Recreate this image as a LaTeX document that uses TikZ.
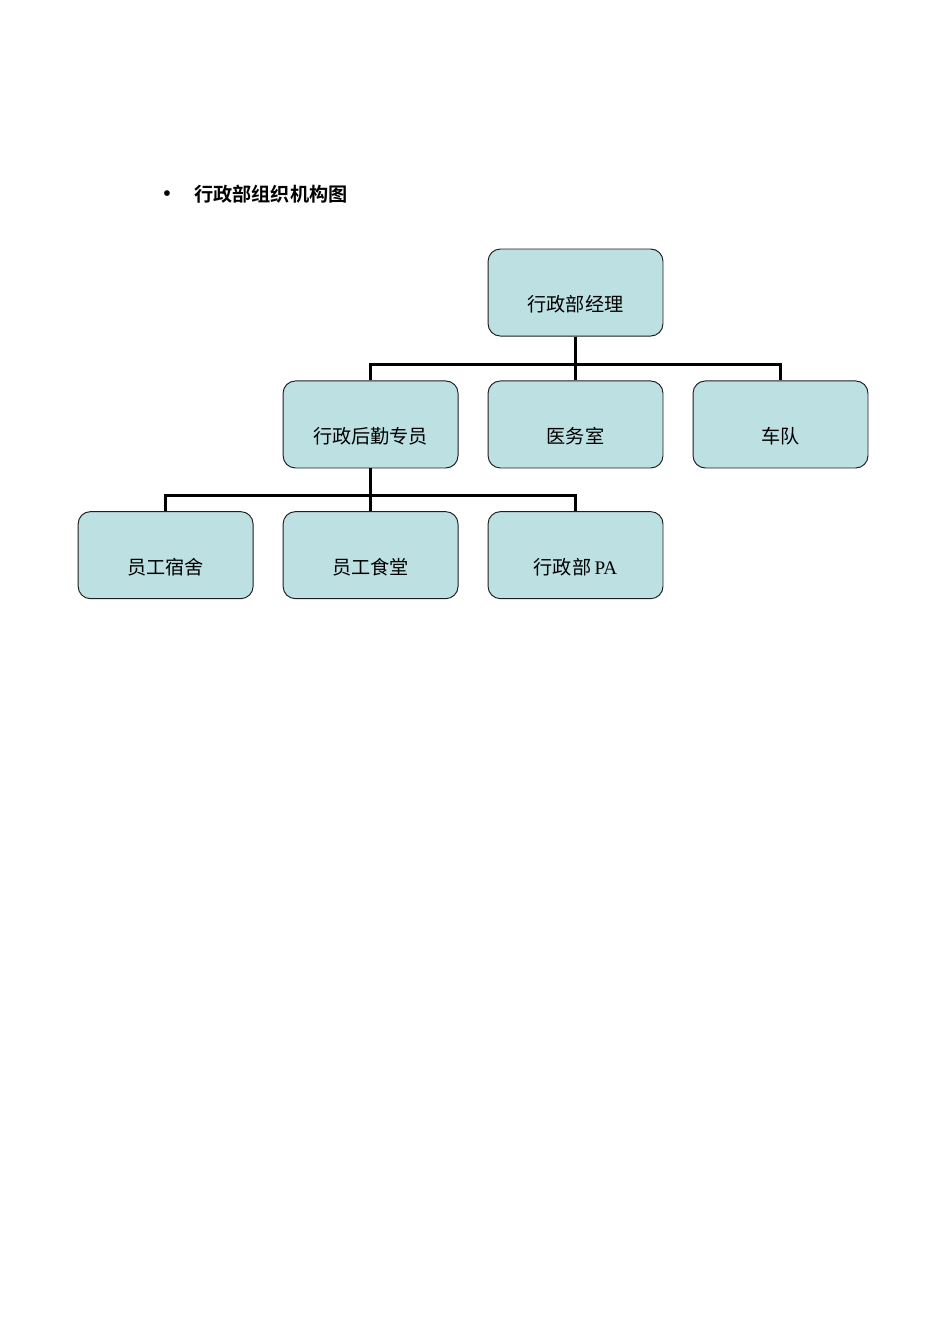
\documentclass[tikz,border=0pt]{standalone}
\usepackage{fontspec}
\setmainfont{Liberation Serif}
\newfontfamily\cjk{Noto Sans CJK SC}
\newfontfamily\cjkbold{Noto Sans CJK SC Bold}
\definecolor{orgFill}{RGB}{189,224,227}
\definecolor{orgLine}{RGB}{30,30,30}
\usetikzlibrary{positioning}

\begin{document}
\begin{tikzpicture}[
  unit/.style={draw=orgLine, fill=orgFill, rounded corners=0.27cm, line width=0.6pt,
               minimum width=3.85cm, inner xsep=0pt, inner ysep=0pt,
               text height=1.38cm, text depth=0.535cm, font=\fontsize{12pt}{14pt}\cjk},
  link/.style={line width=1.8pt}
]
  \useasboundingbox (0,0) rectangle (20.91,-29.58);

  % title line
  \node[anchor=west, inner sep=0pt, font=\fontsize{12pt}{14pt}\cjkbold] (title) at (3.58,-4.27)
    {\makebox[0.69cm][l]{\rmfamily\fontsize{15pt}{15pt}\selectfont\textbullet}行政部组织机构图};

  % first and second level
  \node[unit] (mgr) at (12.667,-6.438) {行政部经理};
  \node[unit, below=0.968cm of mgr]   (med)  {医务室};
  \node[unit, left=0.64cm of med]     (log)  {行政后勤专员};
  \node[unit, right=0.64cm of med]    (car)  {车队};

  % third level
  \node[unit, below=0.94cm of med]    (pa)   {行政部\,{\rmfamily PA}};
  \node[unit, below=0.94cm of log]    (cant) {员工食堂};
  \node[unit, left=0.64cm of cant]    (dorm) {员工宿舍};

  \draw[link] (mgr.south) -- (med.north);
  \draw[link] (mgr.south) -- ++(0,-0.616) -| (log.north);
  \draw[link] (mgr.south) -- ++(0,-0.616) -| (car.north);

  \draw[link] (log.south) -- (cant.north);
  \draw[link] (log.south) -- ++(0,-0.594) -| (dorm.north);
  \draw[link] (log.south) -- ++(0,-0.594) -| (pa.north);
\end{tikzpicture}
\end{document}
